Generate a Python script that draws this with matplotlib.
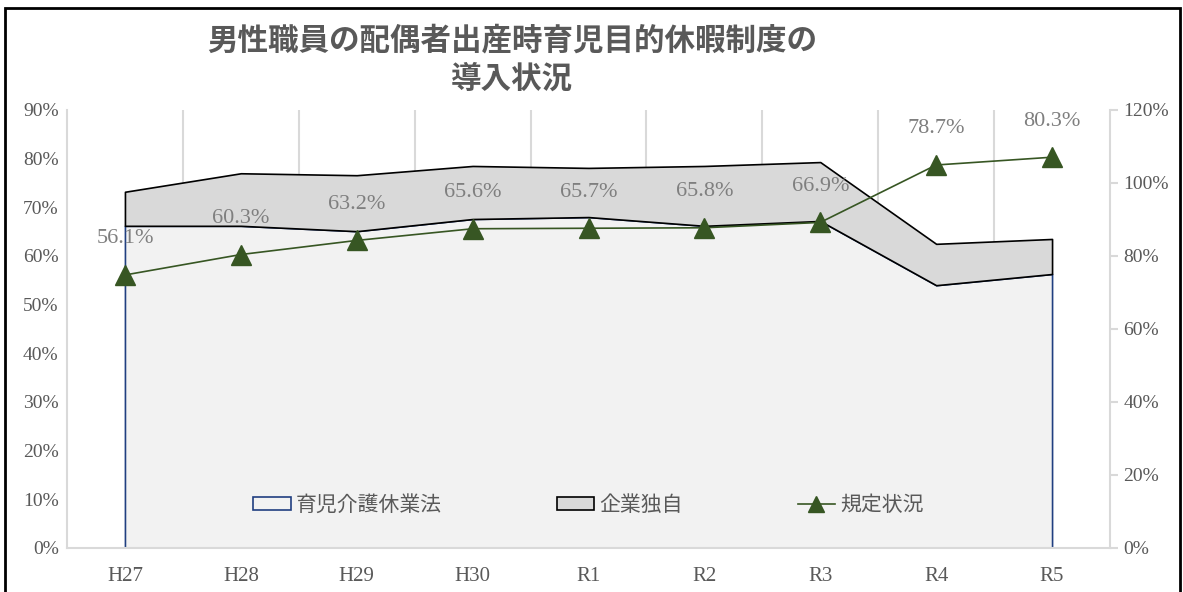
import matplotlib.pyplot as plt
from matplotlib.patches import Patch, Rectangle
from matplotlib.lines import Line2D
import numpy as np

# 年度
years = ['H27', 'H28', 'H29', 'H30', 'R1', 'R2', 'R3', 'R4', 'R5']
# 育児介護休業法 (%)
law = [66.2, 66.2, 65.1, 67.6, 68.0, 66.2, 67.2, 54.0, 56.3]
# 企業独自 (%)  上乗せ分
own = [7.0, 10.8, 11.5, 10.9, 10.1, 12.3, 12.1, 8.5, 7.2]
# 規定状況 (%)
rule = [56.1, 60.3, 63.2, 65.6, 65.7, 65.8, 66.9, 78.7, 80.3]

title = '男性職員の配偶者出産時育児目的休暇制度の\n導入状況'

jp = ['Noto Sans CJK JP', 'DejaVu Sans']
num = ['Liberation Serif', 'DejaVu Serif']
gray = '#595959'
grid_c = '#d9d9d9'

fig = plt.figure(figsize=(11.83, 5.92), dpi=100)
ax = fig.add_axes([67/1183, 1-548/592, (1110-67)/1183, (548-110)/592])
x = np.arange(len(years))

# 面グラフ（積み上げ）
ax.fill_between(x, 0, law, facecolor='#f2f2f2', edgecolor='#203f80', lw=1.2, zorder=2)
top = np.array(law) + np.array(own)
ax.fill_between(x, law, top, facecolor='#d9d9d9', edgecolor='black', lw=1.2, zorder=3)

# 折れ線
ax.plot(x, rule, color='#375623', lw=1.2, marker='^', ms=14, zorder=4)
for xi, v in zip(x, rule):
    ax.annotate('%.1f%%' % v, (xi, v), xytext=(0, 26), textcoords='offset points',
                ha='center', va='center', fontsize=16, color='#7f7f7f', family=num, zorder=5)

ax.set_xlim(-0.5, len(years) - 0.5)
ax.set_ylim(0, 90)
ax.set_yticks(np.arange(0, 91, 10))
ax.set_yticklabels(['%d%%' % v for v in range(0, 91, 10)], family=num, fontsize=14, color=gray)
ax.set_xticks(x)
ax.set_xticklabels(years, family=num, fontsize=15, color=gray)
ax.tick_params(axis='both', length=0, pad=14)
ax.tick_params(axis='y', pad=6)
for xv in np.arange(0.5, len(years) - 1, 1.0):
    ax.axvline(xv, color=grid_c, lw=1.5, zorder=1)
for s in ['top', 'right']:
    ax.spines[s].set_visible(False)
ax.spines['left'].set_color(grid_c)
ax.spines['bottom'].set_color(grid_c)
ax.spines['left'].set_linewidth(1.5)
ax.spines['bottom'].set_linewidth(1.5)

# 第2軸（目盛のみ）
ax2 = ax.twinx()
ax2.set_ylim(0, 120)
ax2.set_yticks(np.arange(0, 121, 20))
ax2.set_yticklabels(['%d%%' % v for v in range(0, 121, 20)], family=num, fontsize=14, color=gray)
ax2.tick_params(axis='y', length=6, color=grid_c, width=1.5)
for s in ['top', 'left', 'bottom']:
    ax2.spines[s].set_visible(False)
ax2.spines['right'].set_color(grid_c)
ax2.spines['right'].set_linewidth(1.5)

# 凡例
handles = [Patch(facecolor='#f2f2f2', edgecolor='#203f80', lw=1.2),
           Patch(facecolor='#d9d9d9', edgecolor='black', lw=1.2),
           Line2D([], [], color='#375623', marker='^', ms=12, lw=1.2)]
labels = ['育児介護休業法', '企業独自', '規定状況']
leg = ax.legend(handles, labels, loc='center', bbox_to_anchor=(0.5, 0.098), ncol=3,
                frameon=False, columnspacing=5.5, handlelength=1.8, handleheight=0.6,
                handletextpad=0.25, prop={'family': jp, 'size': 15})
for t in leg.get_texts():
    t.set_color(gray)
leg.set_zorder(6)

fig.text(512/1183, 1-60/592, title, ha='center', va='center', fontsize=22,
         fontweight='bold', color=gray, family=jp, linespacing=1.25)

# 外枠
fig.patches.append(Rectangle((5/1183, -0.05), (1180-5)/1183, 1.05-8/592,
                             transform=fig.transFigure, fill=False, edgecolor='black', lw=2))

plt.savefig('out.png', dpi=100)
